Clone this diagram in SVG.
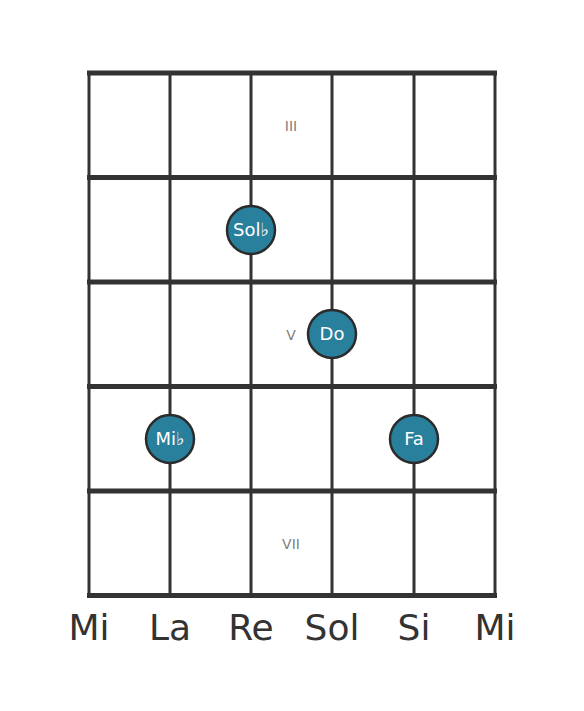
<svg xmlns="http://www.w3.org/2000/svg" width="584" height="711" viewBox="0 0 584 711">
<style>
.fret{stroke:#333;stroke-width:5;}
.str{stroke:#333;stroke-width:3;}
.dot{fill:#29809c;stroke:#2b2b2b;stroke-width:2.5;}
.nt{font-family:"DejaVu Sans",sans-serif;font-size:18px;fill:#fff;text-anchor:middle;}
.fl{font-family:"DejaVu Sans",sans-serif;font-size:14px;fill:#808080;text-anchor:middle;}
.sl{font-family:"DejaVu Sans",sans-serif;font-size:36px;fill:#333;text-anchor:middle;}
</style>
<rect width="584" height="711" fill="#fff"/>
<g id="connectors">
<line class="str" x1="89" y1="71" x2="89" y2="598"/>
<line class="str" x1="170" y1="71" x2="170" y2="598"/>
<line class="str" x1="251" y1="71" x2="251" y2="598"/>
<line class="str" x1="332" y1="71" x2="332" y2="598"/>
<line class="str" x1="414" y1="71" x2="414" y2="598"/>
<line class="str" x1="495" y1="71" x2="495" y2="598"/>
<line class="fret" x1="87" y1="73" x2="497" y2="73"/>
<line class="fret" x1="87" y1="177.5" x2="497" y2="177.5"/>
<line class="fret" x1="87" y1="282" x2="497" y2="282"/>
<line class="fret" x1="87" y1="386.5" x2="497" y2="386.5"/>
<line class="fret" x1="87" y1="491" x2="497" y2="491"/>
<line class="fret" x1="87" y1="595.5" x2="497" y2="595.5"/>
</g>
<g id="fret-labels">
<text class="fl" x="291" y="131">III</text>
<text class="fl" x="291" y="340">V</text>
<text class="fl" x="291" y="549">VII</text>
</g>
<g id="note-solb"><circle class="dot" cx="251" cy="230" r="24"/><text class="nt" x="251" y="236">Sol♭</text></g>
<g id="note-do"><circle class="dot" cx="332" cy="334" r="24"/><text class="nt" x="332" y="340">Do</text></g>
<g id="note-mib"><circle class="dot" cx="170" cy="439" r="24"/><text class="nt" x="170" y="445">Mi♭</text></g>
<g id="note-fa"><circle class="dot" cx="414" cy="439" r="24"/><text class="nt" x="414" y="445">Fa</text></g>
<g id="string-labels">
<text class="sl" x="89" y="640">Mi</text>
<text class="sl" x="170" y="640">La</text>
<text class="sl" x="251" y="640">Re</text>
<text class="sl" x="332" y="640">Sol</text>
<text class="sl" x="414" y="640">Si</text>
<text class="sl" x="495" y="640">Mi</text>
</g>
</svg>
